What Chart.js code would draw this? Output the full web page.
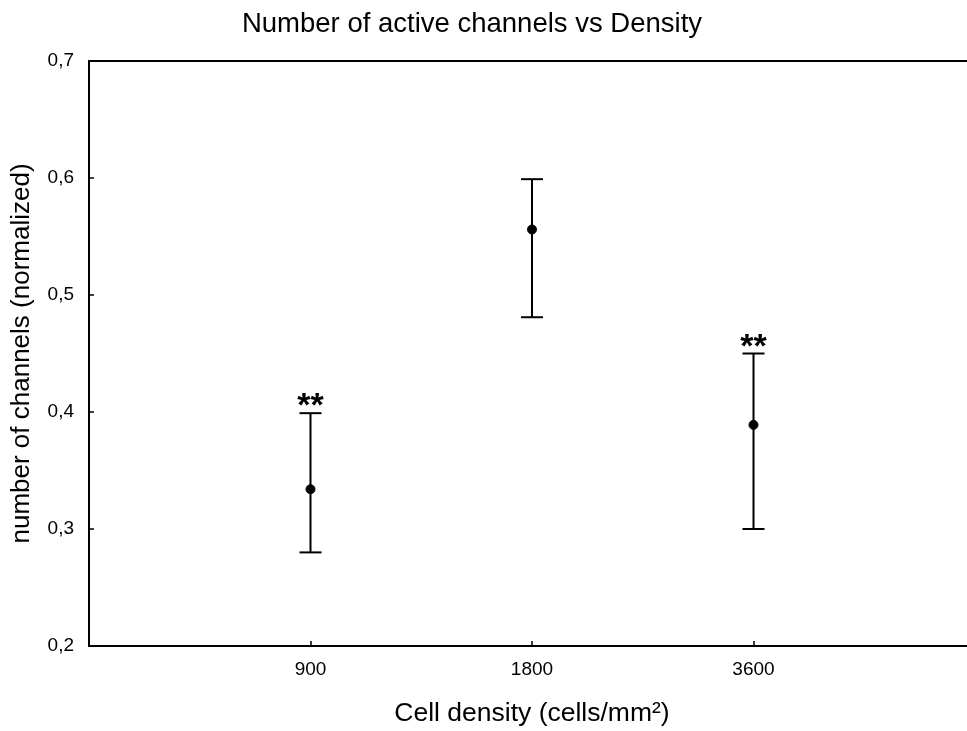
<!DOCTYPE html>
<html>
<head>
<meta charset="utf-8">
<script src="https://cdn.jsdelivr.net/npm/chart.js@4"></script>
<style>
  html, body { margin: 0; padding: 0; background: #fff; overflow: hidden; }
  canvas { display: block; }
</style>
</head>
<body>
<canvas id="chart" width="975" height="731"></canvas>
<script>
// Data
const densities = ["900", "1800", "3600"];
const positions = [1, 2, 3];
const means = [0.334, 0.556, 0.389];
const upper = [0.399, 0.599, 0.450];
const lower = [0.280, 0.481, 0.300];
const stars = ["**", "", "**"];
const yTicks = [0.2, 0.3, 0.4, 0.5, 0.6, 0.7];

const FONT = "'Liberation Sans', Arial, sans-serif";

// whiskers: one line dataset, broken by nulls
const whisker = [];
positions.forEach((p, i) => {
  whisker.push({ x: p, y: lower[i] }, { x: p, y: upper[i] }, { x: p, y: null });
});
const caps = [];
positions.forEach((p, i) => {
  caps.push({ x: p, y: lower[i] }, { x: p, y: upper[i] });
});

// frame, inner ticks, stars, title
const extras = {
  id: "extras",
  afterDraw(chart) {
    const { ctx, chartArea: a, scales } = chart;
    const xs = scales.x, ys = scales.y;
    ctx.save();
    ctx.strokeStyle = "#000";
    ctx.lineWidth = 2;
    ctx.strokeRect(a.left, a.top, a.right - a.left, a.bottom - a.top);
    ctx.beginPath();
    yTicks.forEach(v => {
      const py = Math.round(ys.getPixelForValue(v));
      ctx.moveTo(a.left, py);
      ctx.lineTo(a.left + 5, py);
    });
    positions.forEach(p => {
      const px = Math.round(xs.getPixelForValue(p));
      ctx.moveTo(px, a.bottom);
      ctx.lineTo(px, a.bottom - 5);
    });
    ctx.lineWidth = 1.5;
    ctx.stroke();

    // significance marks
    ctx.fillStyle = "#000";
    ctx.font = "bold 34px " + FONT;
    ctx.textAlign = "center";
    ctx.textBaseline = "alphabetic";
    stars.forEach((s, i) => {
      if (!s) return;
      const m = ctx.measureText(s);
      const px = xs.getPixelForValue(positions[i]);
      const py = ys.getPixelForValue(upper[i]);
      ctx.fillText(s, px, py - 7 - m.actualBoundingBoxDescent);
    });

    // title
    ctx.font = "27.5px " + FONT;
    ctx.fillText("Number of active channels vs Density", 472, 32);
    ctx.restore();
  }
};

new Chart(document.getElementById("chart"), {
  type: "scatter",
  data: {
    datasets: [
      {
        type: "line",
        data: whisker,
        borderColor: "#000",
        borderWidth: 2,
        pointRadius: 0,
        spanGaps: false,
      },
      {
        data: caps,
        pointStyle: "line",
        pointRadius: 11,
        borderColor: "#000",
        borderWidth: 2,
      },
      {
        data: positions.map((p, i) => ({ x: p, y: means[i] })),
        pointRadius: 4.5,
        backgroundColor: "#000",
        borderColor: "#000",
        borderWidth: 1,
      },
    ],
  },
  options: {
    responsive: false,
    animation: false,
    layout: { autoPadding: false, padding: { top: 61, left: 0, right: 0, bottom: 0 } },
    plugins: { legend: { display: false }, tooltip: { enabled: false } },
    scales: {
      x: {
        type: "linear",
        min: 0,
        max: 4,
        afterFit: s => { s.height = 85; },
        afterBuildTicks: s => { s.ticks = positions.map(v => ({ value: v })); },
        grid: { display: false, drawTicks: false },
        border: { display: false },
        ticks: {
          padding: 12,
          color: "#000",
          font: { family: FONT, size: 19 },
          callback: v => densities[positions.indexOf(v)],
        },
        title: {
          display: true,
          text: "Cell density (cells/mm²)",
          color: "#000",
          font: { family: FONT, size: 26.5 },
          padding: { top: 0, bottom: 1 },
        },
      },
      y: {
        min: 0.2,
        max: 0.7,
        afterFit: s => { s.width = 89; },
        afterBuildTicks: s => { s.ticks = yTicks.map(v => ({ value: v })); },
        grid: { display: false, drawTicks: false },
        border: { display: false },
        ticks: {
          padding: 15,
          color: "#000",
          font: { family: FONT, size: 19 },
          callback: v => v.toFixed(1).replace(".", ","),
        },
        title: {
          display: true,
          text: "number of channels (normalized)",
          color: "#000",
          font: { family: FONT, size: 26 },
          padding: { top: 6, bottom: 0 },
        },
      },
    },
  },
  plugins: [extras],
});
</script>
</body>
</html>
